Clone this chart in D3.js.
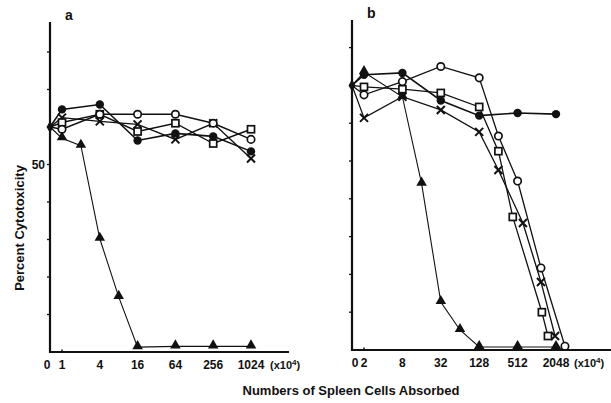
<!DOCTYPE html>
<html>
<head>
<meta charset="utf-8">
<script src="https://cdn.jsdelivr.net/npm/d3@7"></script>
<style>
body { margin: 0; background: #fff; }
text { font-family: "Liberation Sans", Arial, sans-serif; font-weight: bold; fill: #111; }
</style>
</head>
<body>
<div id="chart"></div>
<script>
// panel a : cells absorbed (x10^4) and percent cytotoxicity
var cellsA = [0, 1, 4, 16, 64, 256, 1024];
var dotA = [60, 64.7, 66, 56.4, 58.3, 57.5, 53.5];
var circA = [60, 59.4, 63.4, 63.4, 63.4, 61, 56.7];
var sqA = [60, 61.2, 63.4, 58.8, 61, 55.6, 59.4];
var crossA = [60, 62.5, 61.5, 60.7, 56.7, 61, 51.6];
var triCellsA = [0, 1, 2, 4, 8, 16, 64, 256, 1024];
var triA = [60, 57, 55, 30.2, 14.7, 1.3, 1.5, 1.5, 1.5];

// panel b
var dotCellsB = [0, 2, 8, 32, 128, 512, 2048];
var dotB = [70, 72.8, 73.3, 66, 62, 62.7, 62.4];
var circCellsB = [0, 2, 8, 32, 128, 256, 512, 1190, 2830];
var circB = [70, 67.5, 71, 75, 72, 56.6, 44.7, 21.7, 1];
var sqCellsB = [0, 2, 8, 32, 128, 256, 430, 1230, 1530];
var sqB = [70, 69.6, 69, 68, 64.3, 52.6, 35.2, 10, 3.7];
var crossCellsB = [0, 2, 8, 32, 128, 256, 620, 1190, 1980];
var crossB = [70, 61.4, 67, 63.5, 57.7, 47.6, 33.6, 18, 3.7];
var triCellsB = [0, 2, 8, 16, 32, 64, 128, 512, 2048];
var triB = [70, 73.5, 67, 44, 12.7, 5.3, 0.8, 0.8, 0.8];

var ticksA = [1, 4, 16, 64, 256, 1024];
var ticksB = [2, 8, 32, 128, 512, 2048];
var yTicks = [0, 10, 20, 30, 40, 50, 60, 70, 80];

var svg = d3.select("#chart").append("svg")
    .attr("width", 611)
    .attr("height", 403);

function zip(xs, ys) {
    return xs.map(function(x, i) { return {x: x, y: ys[i]}; });
}

var panels = [
    {
        name: "a", axisX: 50, axisY: 352, top: 22, right: 289,
        x: d3.scaleLog().base(2).domain([1, 1024]).range([62, 251]),
        y: d3.scaleLinear().domain([0, 88]).range([352, 22]),
        ticks: ticksA, zeroX: 47, unitX: 270,
        series: [
            {mark: "tri", data: zip(triCellsA, triA), w: 1.1},
            {mark: "cross", data: zip(cellsA, crossA), w: 1.4},
            {mark: "square", data: zip(cellsA, sqA), w: 1.4},
            {mark: "circle", data: zip(cellsA, circA), w: 1.4},
            {mark: "dot", data: zip(cellsA, dotA), w: 1.6}
        ]
    },
    {
        name: "b", axisX: 352, axisY: 350, top: 20, right: 611,
        x: d3.scaleLog().base(2).domain([2, 2048]).range([364, 556]),
        y: d3.scaleLinear().domain([0, 87.3]).range([350, 20]),
        ticks: ticksB, zeroX: 355, unitX: 574,
        series: [
            {mark: "tri", data: zip(triCellsB, triB), w: 1.1},
            {mark: "cross", data: zip(crossCellsB, crossB), w: 1.3},
            {mark: "square", data: zip(sqCellsB, sqB), w: 1.3},
            {mark: "circle", data: zip(circCellsB, circB), w: 1.3},
            {mark: "dot", data: zip(dotCellsB, dotB), w: 1.6}
        ]
    }
];

function drawMark(g, type, px, py) {
    if (type == "dot") {
        g.append("circle").attr("cx", px).attr("cy", py).attr("r", 4.2).style("fill", "#111");
    } else if (type == "circle") {
        g.append("circle").attr("cx", px).attr("cy", py).attr("r", 3.7)
            .style("fill", "#fff").style("stroke", "#111").style("stroke-width", 1.7);
    } else if (type == "square") {
        g.append("rect").attr("x", px - 3.5).attr("y", py - 3.5).attr("width", 7).attr("height", 7)
            .style("fill", "#fff").style("stroke", "#111").style("stroke-width", 1.7);
    } else if (type == "cross") {
        g.append("path").attr("d", "M" + (px - 4) + "," + (py - 4) + "L" + (px + 4) + "," + (py + 4) +
            "M" + (px + 4) + "," + (py - 4) + "L" + (px - 4) + "," + (py + 4))
            .style("stroke", "#111").style("stroke-width", 2);
    } else if (type == "tri") {
        g.append("path").attr("d", d3.symbol().type(d3.symbolTriangle).size(48)())
            .attr("transform", "translate(" + px + "," + (py - 1) + ")")
            .style("fill", "#111");
    } else if (type == "diamond") {
        g.append("path").attr("d", d3.symbol().type(d3.symbolDiamond).size(42)())
            .attr("transform", "translate(" + px + "," + py + ")")
            .style("fill", "#111");
    }
}

panels.forEach(function(p) {
    var g = svg.append("g");
    var px = function(d) { return d.x === 0 ? p.axisX : p.x(d.x); };
    var py = function(d) { return p.y(d.y); };

    // axes
    g.append("line").attr("x1", p.axisX).attr("x2", p.axisX).attr("y1", p.top).attr("y2", p.axisY + 1)
        .style("stroke", "#111").style("stroke-width", 2.2);
    g.append("line").attr("x1", p.axisX - 1).attr("x2", p.right).attr("y1", p.axisY).attr("y2", p.axisY)
        .style("stroke", "#111").style("stroke-width", 2.2);

    g.selectAll(".ytick").data(yTicks.slice(1)).enter().append("line")
        .attr("x1", p.axisX - 3).attr("x2", p.axisX)
        .attr("y1", function(d) { return p.y(d); })
        .attr("y2", function(d) { return p.y(d); })
        .style("stroke", "#111").style("stroke-width", 1.3);

    // little tick at the first dose
    g.append("line").attr("x1", p.x(p.ticks[0])).attr("x2", p.x(p.ticks[0]))
        .attr("y1", p.axisY - 2.5).attr("y2", p.axisY)
        .style("stroke", "#111").style("stroke-width", 1.5);

    g.selectAll(".xlab").data(p.ticks).enter().append("text")
        .attr("x", function(d) { return p.x(d); })
        .attr("y", p.axisY + 17)
        .attr("text-anchor", "middle")
        .style("font-size", "12px")
        .text(function(d) { return d; });
    g.append("text").attr("x", p.zeroX).attr("y", p.axisY + 17).attr("text-anchor", "middle")
        .style("font-size", "12px").text("0");

    var unit = g.append("text").attr("x", p.unitX).attr("y", p.axisY + 17).style("font-size", "11px");
    unit.append("tspan").text("(x10");
    unit.append("tspan").attr("dy", -4).style("font-size", "8px").text("4");
    unit.append("tspan").attr("dy", 4).text(")");

    g.append("text").attr("x", p.axisX + 15).attr("y", p.top - 2)
        .style("font-size", "14px").text(p.name);

    // lines
    var line = d3.line().x(px).y(py);
    p.series.forEach(function(s) {
        g.append("path").datum(s.data).attr("d", line)
            .style("fill", "none").style("stroke", "#111").style("stroke-width", s.w);
    });

    // markers
    p.series.forEach(function(s) {
        s.data.forEach(function(d) {
            if (d.x === 0) return;
            drawMark(g, s.mark, px(d), py(d));
        });
    });
    var start = p.series[0].data[0];
    drawMark(g, "diamond", p.axisX, py(start));
});

svg.append("text").attr("x", 45).attr("y", panels[0].y(50) + 4.5).attr("text-anchor", "end")
    .style("font-size", "12px").text("50");

svg.append("text")
    .attr("transform", "translate(24,228) rotate(-90)")
    .attr("text-anchor", "middle")
    .style("font-size", "13px")
    .text("Percent Cytotoxicity");

svg.append("text").attr("x", 351).attr("y", 395).attr("text-anchor", "middle")
    .style("font-size", "13px")
    .text("Numbers of Spleen Cells Absorbed");
</script>
</body>
</html>
